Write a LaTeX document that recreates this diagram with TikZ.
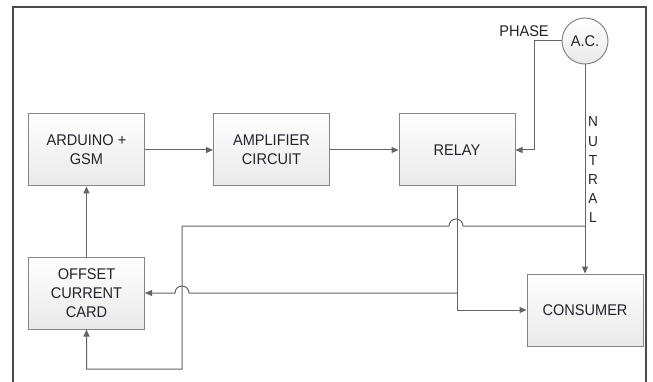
\documentclass[tikz,border=0pt]{standalone}
\usepackage{fontspec}
\setmainfont{Liberation Sans}[FakeStretch=0.94]
\usetikzlibrary{arrows.meta}

\definecolor{wiregray}{HTML}{646464}
\definecolor{boxgray}{HTML}{858585}
\definecolor{framegray}{HTML}{4A4A4A}
\definecolor{textgray}{HTML}{23232C}

\begin{document}
\begin{tikzpicture}[x=1pt, y=-1pt,
    every node/.style={font=\fontsize{15.5}{19}\selectfont, text=textgray},
    block/.style={draw=boxgray, line width=1pt, top color=white, bottom color=gray!17,
        minimum width=116pt, minimum height=72pt, align=center, inner sep=2pt},
    source/.style={circle, draw=boxgray, line width=1pt, top color=white, bottom color=gray!17,
        minimum size=46pt, inner sep=0pt},
    wire/.style={draw=wiregray, line width=1pt},
    arr/.style={wire, -{Triangle[length=7pt, width=6pt]}}]
    \useasboundingbox (0,0) rectangle (653,382);

    % frame
    \draw[framegray, line width=1.4pt] (13,382) -- (13,7) -- (646,7) -- (646,382);

    % blocks
    \node[block] (arduino) at (86.5,150) {ARDUINO +\\GSM};
    \node[block] (amp) at (271.5,150) {AMPLIFIER\\CIRCUIT};
    \node[block] (relay) at (457,150) {RELAY};
    \node[block] (offset) at (86.5,293) {OFFSET\\CURRENT\\CARD};
    \node[block] (consumer) at (585,310) {CONSUMER};
    \node[source] (ac) at (585,41) {A.C.};

    % labels
    \node (phase) at (524,31) {PHASE};
    \node[align=center, font=\fontsize{14.5}{19.2}\selectfont] (nutral) at (593,170) {N\\U\\T\\R\\A\\L};

    % bend points
    \coordinate (ph) at (534,41);
    \coordinate (njoin) at (585,226);
    \coordinate (rjoin) at (457,293);

    % signal path
    \draw[arr] (arduino) -- (amp);
    \draw[arr] (amp) -- (relay);
    \draw[arr] (offset) -- (arduino);

    % supply
    \draw[arr] (ac.west) -- (ph) |- (relay.east);
    \draw[arr] (ac.south) -- (consumer.north);
    \draw[arr] (relay.south) |- (consumer.west);

    % feedback lines
    \draw[arr] (njoin) -- (463,226) arc[start angle=0, end angle=180, radius=7pt]
        -- (182,226) -- (182,369) -| (offset.south);
    \draw[arr] (rjoin) -- (189,293) arc[start angle=0, end angle=180, radius=7pt]
        -- (offset.east);
\end{tikzpicture}
\end{document}
